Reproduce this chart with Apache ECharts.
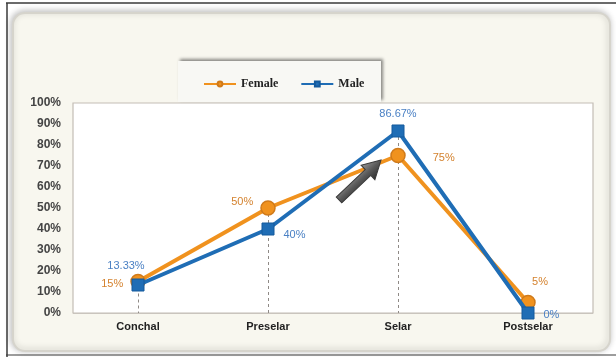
<!DOCTYPE html>
<html>
<head>
<meta charset="utf-8">
<script src="https://cdn.jsdelivr.net/npm/echarts@6/dist/echarts.min.js"></script>
<style>
  html, body { margin: 0; padding: 0; background: #ffffff; }
  #chart { width: 616px; height: 357px; }
</style>
</head>
<body>
<div id="chart"></div>
<script>
// Stage categories and the percentage for each group
const categories = ['Conchal', 'Preselar', 'Selar', 'Postselar'];
const femaleValues = [15, 50, 75, 5];
const maleValues = [13.33, 40, 86.67, 0];
const yTicks = { min: 0, max: 100, interval: 10 };

// Where each value label sits relative to its point
const femaleLabelPos = [
  { position: 'left', offset: [-2, 2] },
  { position: 'left', offset: [-2, -6] },
  { position: 'right', offset: [22, 2] },
  { position: 'top', offset: [12, -2] }
];
const maleLabelPos = [
  { position: 'top', offset: [-12, -2] },
  { position: 'right', offset: [4, 6] },
  { position: 'top', offset: [0, 0] },
  { position: 'right', offset: [4, 2] }
];

const ORANGE = '#f0921e';
const BLUE = '#1f6db5';

function pct(v) { return v + '%'; }

function buildData(values, labels, color) {
  return values.map((v, i) => ({
    value: v,
    label: {
      show: true,
      position: labels[i].position,
      offset: labels[i].offset,
      color: color,
      fontSize: 11,
      fontFamily: 'Liberation Sans, Arial, sans-serif',
      formatter: p => pct(p.value)
    }
  }));
}

// Dotted drop lines from the higher point of each stage to the axis
const dropLines = categories.map((c, i) => [
  { coord: [c, Math.max(femaleValues[i], maleValues[i])] },
  { coord: [c, 0] }
]);

const chart = echarts.init(document.getElementById('chart'), null, { renderer: 'canvas' });

// Arrow shape pointing along +x, rotated toward the peak
const arrowPoints = [[0, -4], [40, -4], [40, -10], [58, 0], [40, 10], [40, 4], [0, 4]];

const option = {
  backgroundColor: '#ffffff',
  animation: false,
  graphic: [
    // outer frame lines
    { type: 'line', z: 0, shape: { x1: 6, y1: 3, x2: 616, y2: 3 }, style: { stroke: '#3a3a3a', lineWidth: 1.5 } },
    { type: 'line', z: 0, shape: { x1: 7, y1: 3, x2: 7, y2: 357 }, style: { stroke: '#3a3a3a', lineWidth: 1.5 } },
    { type: 'line', z: 0, shape: { x1: 6, y1: 355, x2: 616, y2: 355 }, style: { stroke: '#3a3a3a', lineWidth: 1 } },
    // cream panel
    {
      type: 'rect', z: 0,
      shape: { x: 13, y: 13, width: 597, height: 338, r: 12 },
      style: {
        fill: '#f8f7ef', stroke: '#d6d4cc', lineWidth: 2,
        shadowBlur: 6, shadowColor: 'rgba(0,0,0,0.25)', shadowOffsetX: -1, shadowOffsetY: -1
      }
    },
    // plot background
    {
      type: 'rect', z: 1,
      shape: { x: 73, y: 103, width: 520, height: 210 },
      style: { fill: '#ffffff', stroke: '#c4bdb5', lineWidth: 1.2 }
    },
    // legend box
    {
      type: 'rect', z: 1,
      shape: { x: 178, y: 61, width: 203, height: 41 },
      style: {
        fill: '#f8f8f4', stroke: 'none',
        shadowBlur: 3, shadowColor: 'rgba(0,0,0,0.45)', shadowOffsetX: 2, shadowOffsetY: -2
      }
    },
    // pointer arrow
    {
      type: 'polygon', z: 20,
      x: 339, y: 200, rotation: 0.76,
      shape: { points: arrowPoints },
      style: {
        fill: new echarts.graphic.LinearGradient(0, 0, 0, 1, [
          { offset: 0, color: '#9a9a9a' },
          { offset: 0.5, color: '#5a5a5a' },
          { offset: 1, color: '#2e2e2e' }
        ]),
        stroke: '#3a3a3a', lineWidth: 1
      }
    }
  ],
  legend: {
    top: 73,
    left: 198,
    itemGap: 22,
    itemWidth: 32,
    itemHeight: 6,
    textStyle: { fontFamily: 'Liberation Serif, Times New Roman, serif', fontSize: 12, color: '#222', fontWeight: 'bold' },
    data: ['Female', 'Male']
  },
  grid: { left: 73, top: 103, right: 23, bottom: 44, containLabel: false },
  xAxis: {
    type: 'category',
    data: categories,
    boundaryGap: true,
    axisLine: { show: false },
    axisTick: { show: false },
    axisLabel: {
      color: '#222', fontSize: 11, fontWeight: 'bold', margin: 8,
      fontFamily: 'Liberation Sans, Arial, sans-serif'
    },
    splitLine: { show: false }
  },
  yAxis: {
    type: 'value',
    min: yTicks.min, max: yTicks.max, interval: yTicks.interval,
    axisLine: { show: false },
    axisTick: { show: false },
    axisLabel: {
      formatter: v => pct(v), color: '#444', fontSize: 12, fontWeight: 'bold', margin: 12,
      fontFamily: 'Liberation Sans, Arial, sans-serif'
    },
    splitLine: { lineStyle: { color: '#cfcac4', width: 1.2 } }
  },
  series: [
    {
      name: 'Female',
      type: 'line',
      z: 3,
      data: buildData(femaleValues, femaleLabelPos, '#d4822e'),
      symbol: 'circle',
      symbolSize: 14,
      lineStyle: { color: ORANGE, width: 4 },
      itemStyle: { color: ORANGE, borderColor: '#d07a1a', borderWidth: 1.5 },
      markLine: {
        silent: true,
        symbol: 'none',
        label: { show: false },
        lineStyle: { color: '#8f8a86', type: [3, 3], width: 1 },
        data: dropLines,
        z: 2
      }
    },
    {
      name: 'Male',
      type: 'line',
      z: 4,
      data: buildData(maleValues, maleLabelPos, '#4a80c4'),
      symbol: 'rect',
      symbolSize: 12,
      lineStyle: { color: BLUE, width: 4 },
      itemStyle: { color: BLUE, borderColor: '#145a9c', borderWidth: 1 }
    }
  ]
};

chart.setOption(option);
</script>
</body>
</html>
